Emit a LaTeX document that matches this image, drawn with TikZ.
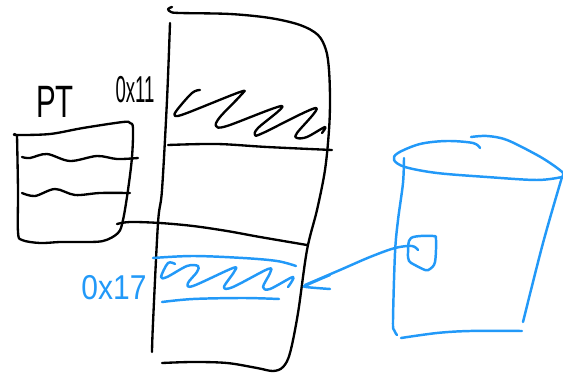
\documentclass[tikz,border=0pt]{standalone}
\usepackage{fontspec}
\setmainfont{Liberation Sans}
\usepackage{xcolor}
\definecolor{inkblack}{HTML}{000000}
\definecolor{inkblue}{HTML}{2299F8}
\tikzset{
  blackpen/.style={draw=inkblack,line width=1.75pt,line cap=round,line join=round},
  bluepen/.style={draw=inkblue,line width=1.85pt,line cap=round,line join=round},
  hwlabel/.style={inner sep=0pt,font=\fontsize{#1}{#1}\selectfont},
}
\newcommand{\inkstroke}[2]{%
  \draw[#1] plot[smooth,tension=0.55] coordinates {#2};
}

\begin{document}
\begin{tikzpicture}[x=0.75pt,y=-0.75pt]
  \useasboundingbox (0,0) rectangle (563,377);
  % memory column
  \inkstroke{blackpen}{(172,7) (168,9) (171,12) (180,13) (230,14) (270,18) (300,25) (318,35) (326,50) (329,70) (330,100) (329,130) (325,170) (317,210) (307,250) (298,313) (290,353) (283,367) (273,371) (257,368) (227,363) (193,362) (162,363)}
  \inkstroke{blackpen}{(170,23) (167,100) (162,190) (158,223) (153,323) (152,352)}
  \inkstroke{blackpen}{(168,145) (217,144) (267,147) (332,150)}
  \inkstroke{blackpen}{(117,224) (130,222) (160,223) (193,226) (227,231) (260,237) (307,245)}
  \inkstroke{blackpen}{(200,90) (192,93) (177,110) (175,116) (187,113) (240,92) (241,95) (220,117) (216,126) (227,126) (282,106) (258,128) (255,135) (263,133) (316,108) (297,133) (297,138) (307,137) (325,127) (322,133)}
  % page table
  \inkstroke{blackpen}{(15,134) (17,135) (50,134) (83,128) (123,122) (130,123) (133,128) (132,157) (128,190) (123,220) (118,233) (103,241) (80,242) (60,242) (40,243) (22,240) (18,232) (18,190) (17,135)}
  \inkstroke{blackpen}{(22,157) (30,158) (47,154) (70,161) (97,156) (117,159) (138,158)}
  \inkstroke{blackpen}{(22,193) (35,196) (55,189) (75,195) (100,193) (130,193)}
  \node[hwlabel=34,text=inkblack,xscale=0.65] (ptlabel) at (55,102) {PT};
  \node[hwlabel=22.5,text=inkblack,xscale=0.62,yscale=1.25] (addrtop) at (135,90) {0x11};
  % marked page
  \inkstroke{bluepen}{(153,258) (193,256) (243,258) (277,261) (296,266)}
  \inkstroke{bluepen}{(162,302) (193,299) (243,298) (279,299)}
  \inkstroke{bluepen}{(175,264) (168,263) (161,277) (167,277) (187,266) (198,266) (197,272) (188,283) (193,286) (233,268) (234,272) (224,287) (233,287) (268,269) (270,273) (263,287) (270,289) (293,277) (288,287)}
  \node[hwlabel=22.5,text=inkblue,yscale=1.15] (addrlow) at (114,288) {0x17};
  % disk
  \inkstroke{bluepen}{(480,148) (473,143) (447,141) (420,144) (398,153) (394,160) (405,167) (437,173) (487,177) (537,180) (562,177)}
  \inkstroke{bluepen}{(471,137) (487,136) (507,140) (537,155) (553,165) (563,173) (562,177)}
  \inkstroke{bluepen}{(562,177) (543,243) (523,322)}
  \inkstroke{bluepen}{(404,158) (403,183) (398,220) (395,253) (393,320) (394,330) (397,335)}
  \inkstroke{bluepen}{(401,338) (437,333) (470,331) (522,331)}
  \inkstroke{bluepen}{(413,264) (409,261) (408,253) (411,238) (433,236) (436,240) (435,262) (430,269) (425,270) (413,264)}
  % swap arrow
  \inkstroke{bluepen}{(418,250) (412,246) (395,248) (370,257) (340,270) (305,285)}
  \inkstroke{bluepen}{(330,275) (307,285) (306,287) (330,289)}
\end{tikzpicture}
\end{document}
